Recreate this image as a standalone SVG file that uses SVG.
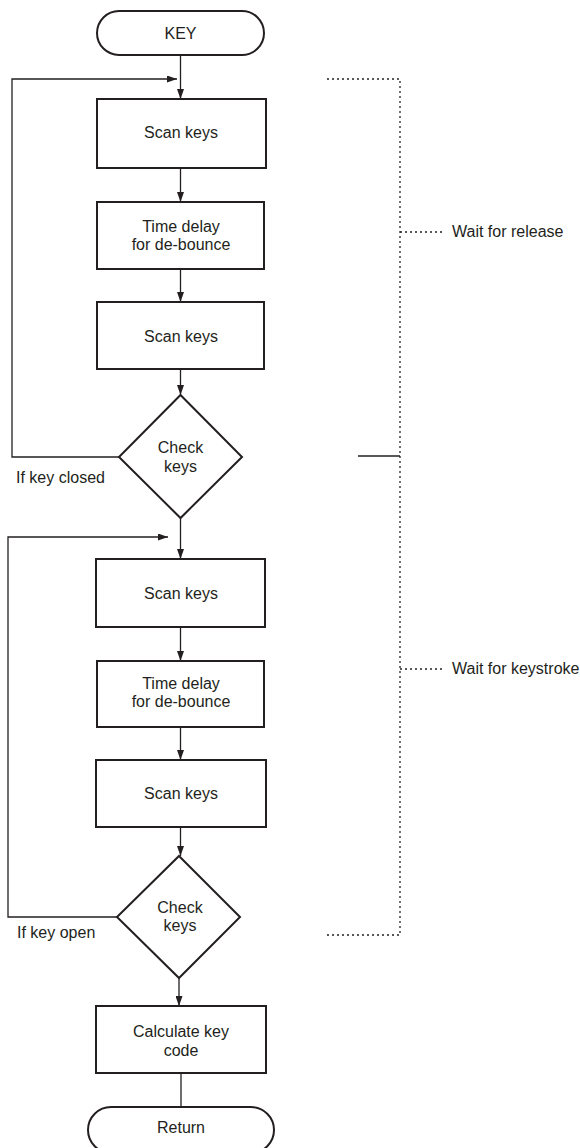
<svg xmlns="http://www.w3.org/2000/svg" width="580" height="1148" viewBox="0 0 580 1148">
<style>
.box{fill:#fff;stroke:#231f20;stroke-width:2}
.ln{fill:none;stroke:#231f20;stroke-width:1.3}
.dot{fill:none;stroke:#231f20;stroke-width:1.3;stroke-dasharray:2 3}
text{font-family:"Liberation Sans",Arial,sans-serif;font-size:16px;fill:#231f20}
.c{text-anchor:middle}
</style>
<defs>
<marker id="ah" viewBox="0 0 10 7" refX="10" refY="3.5" markerWidth="10" markerHeight="7" markerUnits="userSpaceOnUse" orient="auto">
<path d="M0,0 L10,3.5 L0,7 z" fill="#231f20"/>
</marker>
</defs>
<rect width="580" height="1148" fill="#fff"/>
<g id="connectors">
<line class="ln" x1="180.5" y1="55" x2="180.5" y2="99" marker-end="url(#ah)"/>
<line class="ln" x1="180.5" y1="168" x2="180.5" y2="202" marker-end="url(#ah)"/>
<line class="ln" x1="180.5" y1="269" x2="180.5" y2="302" marker-end="url(#ah)"/>
<line class="ln" x1="180.5" y1="369" x2="180.5" y2="395" marker-end="url(#ah)"/>
<polyline class="ln" points="119,457 12,457 12,79 177,79" marker-end="url(#ah)"/>
<line class="ln" x1="180.5" y1="518" x2="180.5" y2="559" marker-end="url(#ah)"/>
<polyline class="ln" points="117,917 8,917 8,537 168,537" marker-end="url(#ah)"/>
<line class="ln" x1="180.5" y1="627" x2="180.5" y2="661" marker-end="url(#ah)"/>
<line class="ln" x1="180.5" y1="727" x2="180.5" y2="760" marker-end="url(#ah)"/>
<line class="ln" x1="180.5" y1="827" x2="180.5" y2="856" marker-end="url(#ah)"/>
<line class="ln" x1="179" y1="978" x2="179" y2="1006" marker-end="url(#ah)"/>
<line class="ln" x1="181" y1="1073" x2="181" y2="1107"/>
</g>
<g id="bracket">
<polyline class="dot" points="327,79 400,79 400,935 327,935"/>
<line class="ln" x1="358" y1="456" x2="400" y2="456"/>
<line class="dot" x1="400" y1="232" x2="443" y2="232"/>
<line class="dot" x1="400" y1="669" x2="443" y2="669"/>
<text x="452" y="237">Wait for release</text>
<text x="452" y="674">Wait for keystroke</text>
</g>
<g id="start">
<rect class="box" x="97" y="11" width="167" height="44" rx="22"/>
<text class="c" x="180.5" y="39">KEY</text>
</g>
<g id="scan1">
<rect class="box" x="97" y="99" width="169" height="69"/>
<text class="c" x="181" y="138">Scan keys</text>
</g>
<g id="delay1">
<rect class="box" x="97" y="202" width="167" height="67"/>
<text class="c" x="181" y="232">Time delay</text>
<text class="c" x="181" y="250">for de-bounce</text>
</g>
<g id="scan2">
<rect class="box" x="97" y="302" width="167" height="67"/>
<text class="c" x="181" y="342">Scan keys</text>
</g>
<g id="check1">
<polygon class="box" points="180.5,395 242,457 180.5,518 119,457"/>
<text class="c" x="180.5" y="453">Check</text>
<text class="c" x="180.5" y="472">keys</text>
<text x="16" y="483">If key closed</text>
</g>
<g id="scan3">
<rect class="box" x="96" y="559" width="169" height="68"/>
<text class="c" x="181" y="599">Scan keys</text>
</g>
<g id="delay2">
<rect class="box" x="97" y="661" width="167" height="66"/>
<text class="c" x="181" y="689">Time delay</text>
<text class="c" x="181" y="707">for de-bounce</text>
</g>
<g id="scan4">
<rect class="box" x="96" y="760" width="170" height="67"/>
<text class="c" x="181" y="799">Scan keys</text>
</g>
<g id="check2">
<polygon class="box" points="179,856 240,917 179,978 117,917"/>
<text class="c" x="180" y="913">Check</text>
<text class="c" x="180" y="931">keys</text>
<text x="17" y="938">If key open</text>
</g>
<g id="calc">
<rect class="box" x="96" y="1006" width="170" height="67"/>
<text class="c" x="181" y="1037">Calculate key</text>
<text class="c" x="181" y="1056">code</text>
</g>
<g id="return">
<rect class="box" x="88" y="1107" width="186" height="46" rx="23"/>
<text class="c" x="181" y="1133">Return</text>
</g>
</svg>
